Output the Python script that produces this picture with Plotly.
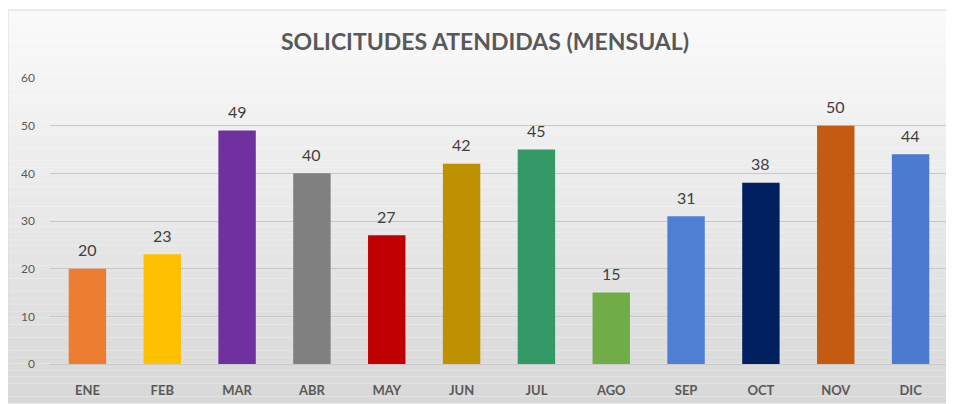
import plotly.graph_objects as go

months = ["ENE", "FEB", "MAR", "ABR", "MAY", "JUN", "JUL", "AGO", "SEP", "OCT", "NOV", "DIC"]
values = [20, 23, 49, 40, 27, 42, 45, 15, 31, 38, 50, 44]
colors = ["#ED7D31", "#FFC000", "#7030A0", "#808080", "#C00000", "#BF9000",
          "#339966", "#70AD47", "#4F7FD2", "#002060", "#C55A11", "#4B7AD0"]
y_ticks = [0, 10, 20, 30, 40, 50, 60]
title = "SOLICITUDES ATENDIDAS (MENSUAL)"

W, H = 954, 404
OFF = 8  # page body margin compensation
def px(x):
    return (x - OFF) / W
def py(y):
    return 1 - (y - OFF) / H

FONT = "Lato, Noto Sans, sans-serif"
fig = go.Figure()
fig.add_trace(go.Bar(
    x=months, y=values, marker=dict(color=colors, line=dict(width=0)),
    width=0.5,
))

annotations = [dict(x=m, y=v, xref="x", yref="y", text=str(v), showarrow=False,
                    yanchor="middle", yshift=19,
                    font=dict(family=FONT, size=16, color="#404040"))
               for m, v in zip(months, values)]

shapes = []
x0, x1, y0, y1 = px(8), px(953), py(10), py(403)
n = 60
top = (250, 250, 250)
bot = (216, 216, 216)
for i in range(n):
    t = i / (n - 1)
    c = tuple(round(top[k] + (bot[k] - top[k]) * t) for k in range(3))
    ya = y0 + (y1 - y0) * i / n
    yb = y0 + (y1 - y0) * (i + 1) / n
    shapes.append(dict(type="rect", xref="paper", yref="paper", x0=x0, x1=x1, y0=yb, y1=ya,
                       fillcolor="rgb(%d,%d,%d)" % c, line=dict(width=0), layer="below"))
shapes.append(dict(type="rect", xref="paper", yref="paper", x0=x0, x1=x1, y0=y1, y1=y0,
                   fillcolor="rgba(0,0,0,0)", line=dict(color="#D9D9D9", width=1), layer="above"))

fig.update_layout(
    template="none",
    width=W, height=H,
    margin=dict(l=0, r=0, t=0, b=0, autoexpand=False),
    paper_bgcolor="white", plot_bgcolor="rgba(0,0,0,0)",
    showlegend=False,
    bargap=0.5,
    shapes=shapes,
    annotations=annotations,
    title=dict(text="<b>" + title + "</b>", x=px(485), xanchor="center", y=py(42), yanchor="middle",
               automargin=False,
               font=dict(family=FONT, size=23, color="#595959")),
    xaxis=dict(domain=[px(50), px(948)], showgrid=False, showline=False, zeroline=False,
               automargin=False,
               ticks="", ticklabelstandoff=17, tickprefix="<b>", ticksuffix="</b>",
               tickfont=dict(family=FONT, size=13, color="#595959")),
    yaxis=dict(domain=[py(364), py(78)], range=[0, 60], tickvals=y_ticks,
               automargin=False,
               showgrid=True, gridcolor="#C8C8C8", gridwidth=1, zeroline=True,
               zerolinecolor="#C8C8C8", zerolinewidth=1, showline=False,
               ticks="", ticklabelstandoff=14,
               tickfont=dict(family=FONT, size=12, color="#595959")),
    font=dict(family=FONT),
)
fig.write_html("out.html")
